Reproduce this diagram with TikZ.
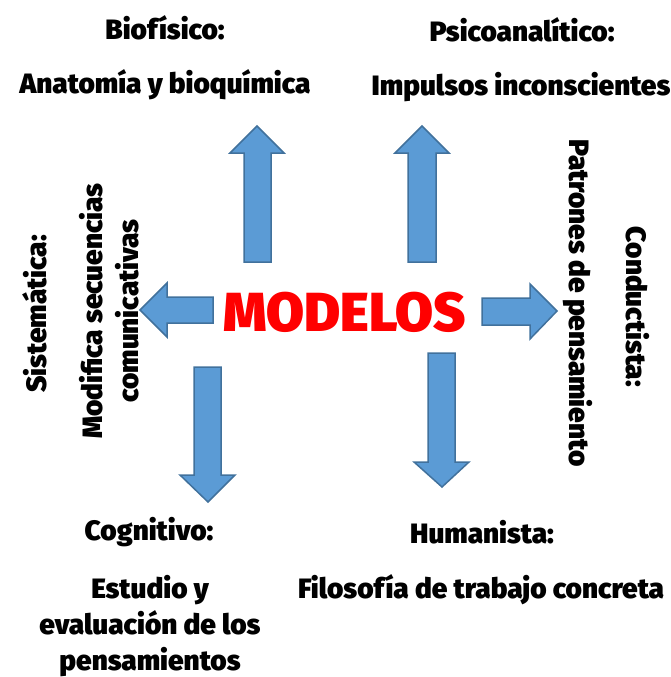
\documentclass[tikz,border=0pt]{standalone}
\usepackage{fontspec}
\setmainfont{Fira Sans}[BoldFont={* Black}]
\usepackage{tikz}
\definecolor{arrowfill}{HTML}{5B9BD5}
\definecolor{arrowline}{HTML}{41719C}
\definecolor{titlered}{HTML}{FF0000}

\tikzset{
  blockarrow/.style={fill=arrowfill,draw=arrowline,line width=1.5pt,line join=miter},
  label/.style={font=\bfseries\fontsize{28}{36}\selectfont,align=center,inner sep=0pt},
}

\begin{document}
\begin{tikzpicture}[x=1pt,y=-1pt]
    \useasboundingbox (0,0) rectangle (671,677);

    % arrows
    \draw[blockarrow] (244,262)--(244,153)--(230,153)--(257,126)--(284,153)--(271,153)--(271,262)--cycle;
    \draw[blockarrow] (408,262)--(408,153)--(395,153)--(422,126)--(449,153)--(436,153)--(436,262)--cycle;
    \draw[blockarrow] (213,297)--(167,297)--(167,283)--(140,310)--(167,337)--(167,323)--(213,323)--cycle;
    \draw[blockarrow] (482,298)--(530,298)--(530,284)--(557,311)--(530,339)--(530,325)--(482,325)--cycle;
    \draw[blockarrow] (194,367)--(221,367)--(221,475)--(235,475)--(208,502)--(180,475)--(194,475)--cycle;
    \draw[blockarrow] (428,353)--(455,353)--(455,462)--(469,462)--(442,487)--(414,462)--(428,462)--cycle;

    % centre
    \node[titlered,font=\bfseries\fontsize{55}{60}\selectfont] (modelos) at (345,312) {MODELOS};

    % top
    \node[label] (biofisico) at (165,28) {Biofísico:};
    \node[label] (anatomia) at (165,85) {Anatomía y bioquímica};
    \node[label] (psico) at (522,30) {Psicoanalítico:};
    \node[label] (impulsos) at (521,87) {Impulsos inconscientes};

    % left
    \node[label,rotate=90] (sistematica) at (35,314) {Sistemática:};
    \node[label,rotate=90] (modifica) at (109,311) {Modifica secuencias\\comunicativas};

    % right
    \node[label,rotate=-90] (patrones) at (578,303) {Patrones de pensamiento};
    \node[label,rotate=-90] (conductista) at (638,307) {Conductista:};

    % bottom
    \node[label] (cognitivo) at (149,532) {Cognitivo:};
    \node[label] (estudio) at (150,626) {Estudio y\\evaluación de los\\pensamientos};
    \node[label] (humanista) at (482,532) {Humanista:};
    \node[label] (filosofia) at (481,590) {Filosofía de trabajo concreta};
\end{tikzpicture}
\end{document}
